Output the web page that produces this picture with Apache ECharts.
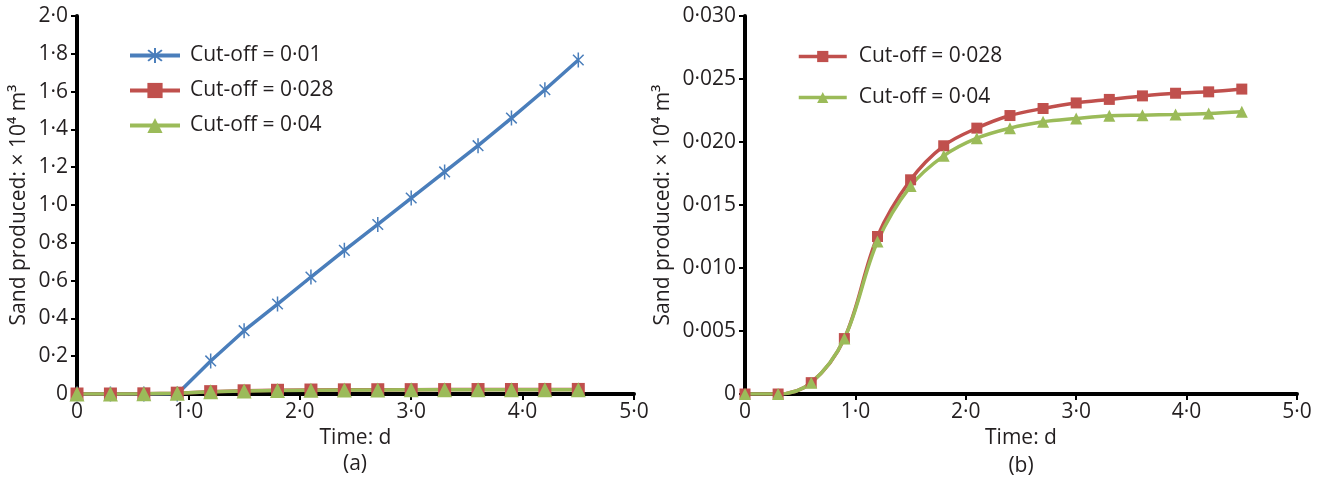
<!DOCTYPE html>
<html>
<head>
<meta charset="utf-8">
<title>Sand produced vs time</title>
<script src="https://cdn.jsdelivr.net/npm/echarts@6/dist/echarts.min.js"></script>
<style>
  html, body { margin: 0; padding: 0; background: #fff; }
  #chart { width: 1330px; height: 484px; }
</style>
</head>
<body>
<div id="chart"></div>
<script>
// Time axis (days) shared by every series
const timeDays = [0, 0.3, 0.6, 0.9, 1.2, 1.5, 1.8, 2.1, 2.4, 2.7, 3.0, 3.3, 3.6, 3.9, 4.2, 4.5];

// Sand produced (x 10^4 m^3) for each cut-off value
const cutoff001 = [0, 0, 0, 0, 0.175, 0.335, 0.476, 0.619, 0.76, 0.897, 1.037, 1.175, 1.314, 1.46, 1.61, 1.767];
const cutoff0028 = [0, 0, 0.0009, 0.0044, 0.0125, 0.0170, 0.0197, 0.0211, 0.0221, 0.02266, 0.0231, 0.02338, 0.02366, 0.02387, 0.02398, 0.0242];
const cutoff004 = [0, 0, 0.0009, 0.0044, 0.0121, 0.0165, 0.0189, 0.0203, 0.0211, 0.0216, 0.02186, 0.02208, 0.02213, 0.02218, 0.02226, 0.0224];

const seriesNames = ['Cut-off = 0·01', 'Cut-off = 0·028', 'Cut-off = 0·04'];
const panelLabels = ['(a)', '(b)'];
const xAxisTitle = 'Time: d';
const yAxisTitle = 'Sand produced: × 10⁴ m³';

const FONT = '"Open Sans", "Noto Sans", sans-serif';
const FS = 21;
const TEXT = '#231f20';
const BLUE = '#4a7ebb';
const RED = '#c0504d';
const GREEN = '#9bbb59';

// six-armed asterisk marker built from three filled bars
const STAR = 'path://M-1,-10 L1,-10 L1,10 L-1,10 Z ' +
             'M-7.78,-6.36 L-6.36,-7.78 L7.78,6.36 L6.36,7.78 Z ' +
             'M-6.36,7.78 L-7.78,6.36 L6.36,-7.78 L7.78,-6.36 Z';

const pair = arr => timeDays.map((t, i) => [t, arr[i]]);
const dotFmt = digits => v => (v === 0 ? '0' : v.toFixed(digits).replace('.', '·'));
const textStyle = { fontSize: FS, color: TEXT, fontFamily: FONT };

function xAxisFor(grid) {
  return {
    gridIndex: grid, type: 'value', min: 0, max: 5, interval: 1,
    axisLine: { show: true, onZero: false, lineStyle: { color: '#000', width: 4 } },
    axisTick: { show: true, length: 6, lineStyle: { color: '#000', width: 2 } },
    splitLine: { show: false },
    axisLabel: Object.assign({ formatter: dotFmt(1), margin: 8 }, textStyle),
    name: xAxisTitle, nameLocation: 'middle', nameGap: 30,
    nameTextStyle: textStyle
  };
}
function yAxisFor(grid, max, interval, digits, gap) {
  return {
    gridIndex: grid, type: 'value', min: 0, max: max, interval: interval,
    axisLine: { show: true, onZero: false, lineStyle: { color: '#000', width: 4 } },
    axisTick: { show: true, length: 6, lineStyle: { color: '#000', width: 2 } },
    splitLine: { show: false },
    axisLabel: Object.assign({ formatter: dotFmt(digits), margin: 9 }, textStyle),
    name: yAxisTitle, nameLocation: 'middle', nameGap: gap,
    nameTextStyle: textStyle
  };
}
function lineSeries(name, data, color, symbol, size, grid, smooth, width) {
  return {
    name: name, type: 'line', xAxisIndex: grid, yAxisIndex: grid,
    data: pair(data), smooth: smooth, symbol: symbol, symbolSize: size,
    symbolKeepAspect: true, showAllSymbol: true,
    lineStyle: { color: color, width: width },
    itemStyle: { color: color, borderWidth: 0 },
    emphasis: { disabled: true }, animation: false
  };
}

const chart = echarts.init(document.getElementById('chart'), null, { renderer: 'canvas' });
chart.setOption({
  backgroundColor: '#fff',
  animation: false,
  grid: [
    { left: 77, top: 16, width: 557, height: 378 },
    { left: 745, top: 16, width: 552, height: 378 }
  ],
  xAxis: [xAxisFor(0), xAxisFor(1)],
  yAxis: [yAxisFor(0, 2, 0.2, 1, 47), yAxisFor(1, 0.03, 0.005, 3, 71)],
  legend: [
    {
      orient: 'vertical', left: 128, top: 45, padding: 0,
      itemWidth: 50, itemHeight: 19, itemGap: 14,
      data: seriesNames,
      lineStyle: { width: 4 },
      textStyle: Object.assign({ lineHeight: 21, padding: [0, 0, 0, 5] }, textStyle),
      selectedMode: false
    },
    {
      orient: 'vertical', left: 797, top: 46, padding: 0,
      itemWidth: 48, itemHeight: 14, itemGap: 20,
      data: seriesNames.slice(1),
      lineStyle: { width: 3.5 },
      textStyle: Object.assign({ lineHeight: 21, padding: [0, 0, 0, 7] }, textStyle),
      selectedMode: false
    }
  ],
  series: [
    lineSeries(seriesNames[0], cutoff001, BLUE, STAR, 15, 0, false, 3.5),
    lineSeries(seriesNames[1], cutoff0028, RED, 'rect', 13, 0, false, 3.5),
    lineSeries(seriesNames[2], cutoff004, GREEN, 'triangle', 15, 0, false, 3.5),
    lineSeries(seriesNames[1], cutoff0028, RED, 'rect', 11, 1, 0.35, 3.5),
    lineSeries(seriesNames[2], cutoff004, GREEN, 'triangle', 12, 1, 0.35, 3.5)
  ],
  graphic: [
    { type: 'text', x: 355, y: 464, style: { text: panelLabels[0], fontSize: FS, fill: TEXT, fontFamily: FONT, align: 'center', verticalAlign: 'middle' } },
    { type: 'text', x: 1021, y: 466, style: { text: panelLabels[1], fontSize: FS, fill: TEXT, fontFamily: FONT, align: 'center', verticalAlign: 'middle' } }
  ]
});
</script>
</body>
</html>
